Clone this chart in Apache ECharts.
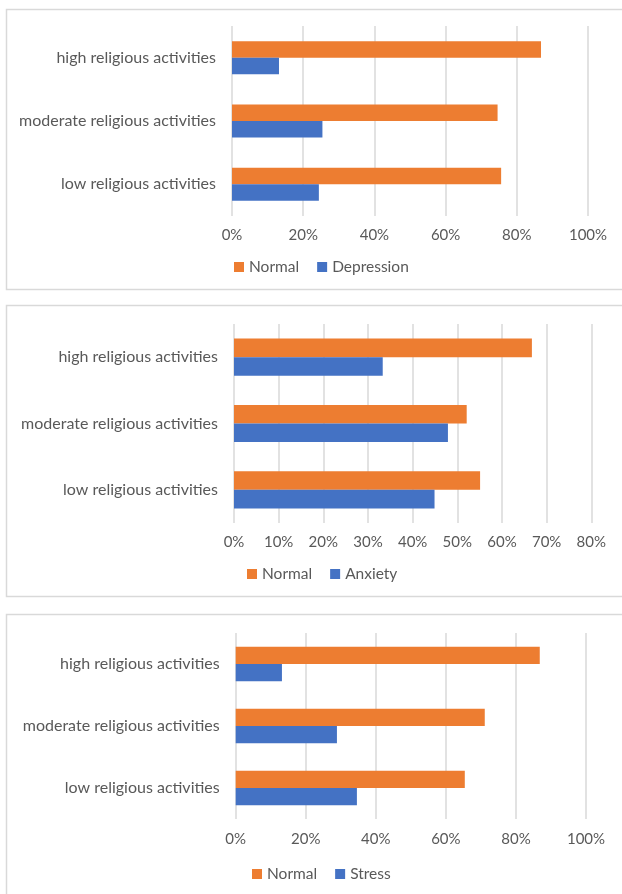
<!DOCTYPE html>
<html>
<head>
<meta charset="utf-8">
<script src="https://cdn.jsdelivr.net/npm/echarts@6/dist/echarts.min.js"></script>
<style>
html,body{margin:0;padding:0;background:#fff;overflow:hidden;}
#c{width:622px;height:894px;}
</style>
</head>
<body>
<div id="c"></div>
<script>
// Data
var categories = ['low religious activities', 'moderate religious activities', 'high religious activities'];
var depressionNormal = [75.6, 74.6, 86.8];
var depression = [24.4, 25.4, 13.2];
var anxietyNormal = [55.1, 52.1, 66.7];
var anxiety = [44.9, 47.9, 33.3];
var stressNormal = [65.4, 71.1, 86.8];
var stress = [34.6, 28.9, 13.2];

var ORANGE = '#ED7D31', BLUE = '#4472C4';
var TXT = '#595959', GRID = '#d9d9d9';
var FONT = 'Lato';

var chart = echarts.init(document.getElementById('c'), null, {renderer: 'canvas'});

var panels = [
  {grid: {left: 232, right: 34, top: 26, height: 190}, max: 100, interval: 20, gap: '48%',
   normal: depressionNormal, other: depression, otherName: 'Depression', legendTop: 254, legendLeft: 229, labelMargin: 12},
  {grid: {left: 234, right: 30.7, top: 324, height: 199}, max: 80, interval: 10, gap: '44%',
   normal: anxietyNormal, other: anxiety, otherName: 'Anxiety', legendTop: 561, legendLeft: 242, labelMargin: 12},
  {grid: {left: 235.7, right: 36, top: 633, height: 186}, max: 100, interval: 20, gap: '44%',
   normal: stressNormal, other: stress, otherName: 'Stress', legendTop: 861, legendLeft: 247, labelMargin: 13}
];

var option = {
  animation: false,
  textStyle: {fontFamily: FONT},
  grid: [], xAxis: [], yAxis: [], series: [], legend: [],
  graphic: [
    {type: 'rect', shape: {x: 6.5, y: 9.5, width: 660, height: 280}, style: {fill: 'none', stroke: GRID, lineWidth: 1.5}, silent: true},
    {type: 'rect', shape: {x: 6.5, y: 305.5, width: 660, height: 291}, style: {fill: 'none', stroke: GRID, lineWidth: 1.5}, silent: true},
    {type: 'rect', shape: {x: 6.5, y: 614.5, width: 660, height: 320}, style: {fill: 'none', stroke: GRID, lineWidth: 1.5}, silent: true}
  ]
};

panels.forEach(function (p, i) {
  option.grid.push(p.grid);
  option.xAxis.push({
    type: 'value', gridIndex: i, min: 0, max: p.max, interval: p.interval,
    axisLine: {show: false}, axisTick: {show: false},
    splitLine: {show: true, lineStyle: {color: GRID, width: 1.5}},
    axisLabel: {formatter: '{value}%', color: TXT, fontSize: 15, fontFamily: FONT, margin: p.labelMargin}
  });
  option.yAxis.push({
    type: 'category', gridIndex: i, data: categories,
    axisLine: {show: false}, axisTick: {show: false},
    axisLabel: {color: TXT, fontSize: 16, fontFamily: FONT, margin: 16}
  });
  option.series.push({
    name: 'Normal', type: 'bar', xAxisIndex: i, yAxisIndex: i, data: p.normal,
    itemStyle: {color: ORANGE}, barGap: '0%', barCategoryGap: p.gap
  });
  option.series.push({
    name: p.otherName, type: 'bar', xAxisIndex: i, yAxisIndex: i, data: p.other,
    itemStyle: {color: BLUE}, barGap: '0%', barCategoryGap: p.gap
  });
  option.legend.push({
    data: ['Normal', p.otherName], top: p.legendTop, left: p.legendLeft,
    itemWidth: 10, itemHeight: 10, itemGap: 18, icon: 'rect',
    textStyle: {color: TXT, fontSize: 15.5, fontFamily: FONT}
  });
});

chart.setOption(option);
</script>
</body>
</html>
